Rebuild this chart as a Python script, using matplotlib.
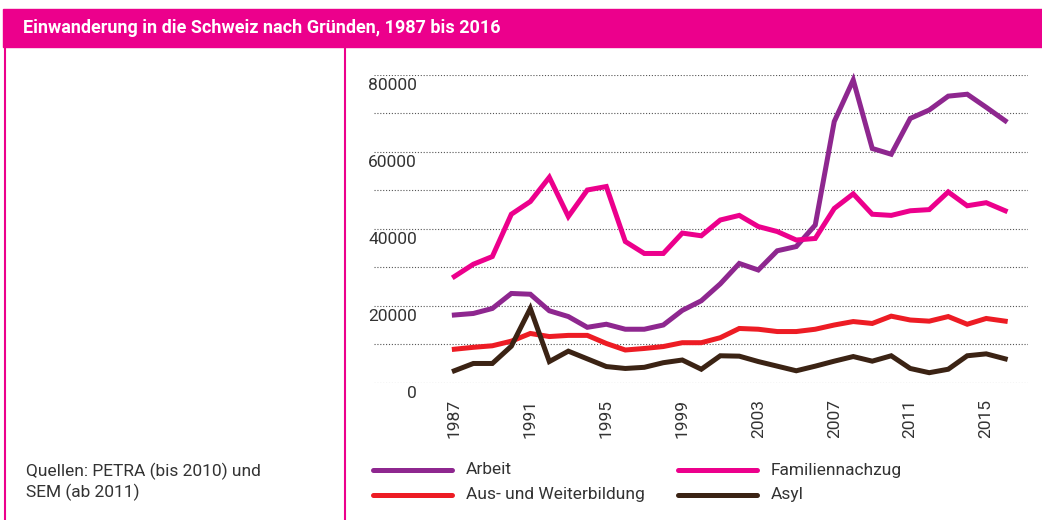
import matplotlib
matplotlib.use('Agg')
import matplotlib.pyplot as plt
from matplotlib.lines import Line2D
from matplotlib.patches import Rectangle

# Daten
jahre = list(range(1987, 2017))
arbeit = [17600, 18000, 19300, 23200, 23000, 18700, 17200, 14400, 15200, 13900,
          13900, 15000, 18800, 21300, 25700, 31000, 29300, 34300, 35400, 41000,
          67900, 78700, 60900, 59400, 68700, 70900, 74500, 75000, 71600, 68100]
familie = [27600, 30800, 32800, 43800, 47100, 53400, 43200, 50100, 51000, 36700,
           33600, 33600, 38900, 38200, 42300, 43500, 40600, 39300, 37100, 37500,
           45300, 49100, 43800, 43500, 44700, 45000, 49600, 46000, 46800, 44700]
bildung = [8700, 9200, 9600, 10800, 12800, 12000, 12300, 12300, 10200, 8500,
           8900, 9400, 10400, 10400, 11700, 14100, 13900, 13300, 13300, 13900,
           15000, 15900, 15400, 17300, 16300, 16000, 17200, 15200, 16700, 16000]
asyl = [3100, 5000, 5000, 9500, 19300, 5500, 8200, 6200, 4200, 3700,
        4000, 5200, 5900, 3500, 7000, 6900, 5500, 4300, 3100, 4300,
        5600, 6800, 5600, 7000, 3700, 2600, 3500, 7000, 7500, 6200]

serien = ['Arbeit', 'Familiennachzug', 'Aus- und Weiterbildung', 'Asyl']
farben = ['#8e278f', '#ec008c', '#ed1c24', '#3b2314']
werte = [arbeit, familie, bildung, asyl]

x_ticks = list(range(1987, 2016, 4))
y_grid = list(range(0, 80001, 10000))
y_labels = list(range(0, 80001, 20000))

plt.rcParams['font.family'] = ['Roboto', 'DejaVu Sans']
textfarbe = '#333333'
gr = 12.5

W, H = 1042, 520
fig = plt.figure(figsize=(W / 100, H / 100), dpi=100)

def fx(px):
    return px / W

def fy(py):
    return 1 - py / H

# Titelbalken
fig.patches.append(Rectangle((fx(3), fy(46.5)), fx(W - 3), fy(8.5) - fy(46.5),
                             transform=fig.transFigure, color='#ec008c', zorder=0))
fig.text(fx(23), fy(28), 'Einwanderung in die Schweiz nach Gründen, 1987 bis 2016',
         color='white', fontsize=13, fontweight='bold', va='center', ha='left')

# vertikale Trennlinien
for xp in [4.5, 344.5]:
    fig.add_artist(Line2D([fx(xp), fx(xp)], [fy(46.5), 0], transform=fig.transFigure,
                          color='#ec008c', lw=1.5))

ax = fig.add_axes([fx(374), fy(382.7), fx(1028) - fx(374), fy(75) - fy(382.7)])
for name, farbe, y in zip(serien, farben, werte):
    ax.plot(jahre, y, color=farbe, lw=3.6, solid_joinstyle='miter', clip_on=False, zorder=3)

ax.set_xlim(1987 - 4.23, 2016 + 1.2)
ax.set_ylim(0, 80000)
ax.set_yticks(y_grid)
ax.set_yticklabels([])
ax.tick_params(axis='y', length=0)
ax.grid(axis='y', color='#555555', lw=0.8, linestyle=(0, (1, 1.6)))
ax.set_axisbelow(True)
for s in ax.spines.values():
    s.set_visible(False)

# y-Beschriftungen leicht unter den Gitterlinien
for v in y_labels:
    ax.annotate(str(v), xy=(0, v), xycoords=('axes fraction', 'data'),
                xytext=(43 * 0.72, -11 * 0.72), textcoords='offset points',
                ha='right', va='center', fontsize=gr, color=textfarbe)

ax.set_xticks(x_ticks)
ax.set_xticklabels([str(j) for j in x_ticks], rotation=90, fontsize=gr, color=textfarbe)
ax.tick_params(axis='x', length=0, pad=12)

# Legende
leg_x = [373, 678]
leg_y = [470, 495]
for i, (name, farbe) in enumerate(zip(serien, farben)):
    col = i % 2
    row = i // 2
    xa = leg_x[col]
    ya = leg_y[row]
    fig.add_artist(Line2D([fx(xa), fx(xa + 79)], [fy(ya), fy(ya)], transform=fig.transFigure,
                          color=farbe, lw=3.6, solid_capstyle='round'))
    fig.text(fx(xa + 93), fy(ya), name, fontsize=gr, color=textfarbe, va='center', ha='left')

# Quelle
fig.text(fx(26), fy(471), 'Quellen: PETRA (bis 2010) und', fontsize=gr, color=textfarbe,
         va='center', ha='left')
fig.text(fx(26), fy(492), 'SEM (ab 2011)', fontsize=gr, color=textfarbe,
         va='center', ha='left')

fig.savefig('out.png', dpi=100)
